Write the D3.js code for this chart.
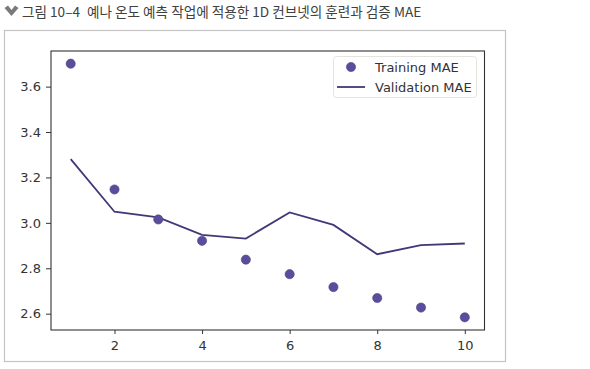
<!DOCTYPE html>
<html><head><meta charset="utf-8">
<script src="https://cdn.jsdelivr.net/npm/d3@7"></script>
<style>body{margin:0;background:#fff}svg{display:block}</style>
</head><body>
<svg id="c" width="590" height="369"></svg>
<script>
const epochs = [1,2,3,4,5,6,7,8,9,10];
const trainingMAE = [3.701,3.147,3.015,2.921,2.838,2.774,2.717,2.669,2.627,2.584];
const validationMAE = [3.281,3.049,3.024,2.947,2.931,3.046,2.991,2.862,2.902,2.909];
const xTicks = [2,4,6,8,10];
const yTicks = [2.6,2.8,3.0,3.2,3.4,3.6];
const titleFig = "그림 10–4";
const titleText = "예나 온도 예측 작업에 적용한 1D 컨브넷의 훈련과 검증 MAE";
const legendLabels = ["Training MAE","Validation MAE"];

const svg = d3.select("#c");
const plot = {l:51, r:484.5, t:51, b:330};
const dotColor = "#5a4e9c", lineColor = "#433877", fnt = "DejaVu Sans, sans-serif";

// Title
svg.append("path").attr("d","M4.5,8 L8,5.5 L11.5,10 L15,5.5 L18.5,8 L11.5,16 Z").attr("fill","#7a7a7a");
const tt = svg.append("text").attr("x",22).attr("y",17).attr("font-family","Noto Sans CJK KR, sans-serif")
  .attr("font-size",13.6).attr("fill","#404040");
tt.append("tspan").text(titleFig);
tt.append("tspan").attr("dx",7).text(titleText);

// Outer frame
svg.append("rect").attr("x",4.5).attr("y",30.5).attr("width",501).attr("height",331)
  .attr("fill","none").attr("stroke","#c4c4c4").attr("stroke-width",1.2);

// Scales (matplotlib-like 5% margins)
const xmin = d3.min(epochs), xmax = d3.max(epochs), xm = (xmax-xmin)*0.05;
const x = d3.scaleLinear().domain([xmin-xm, xmax+xm]).range([plot.l, plot.r]);
const all = trainingMAE.concat(validationMAE);
const ymin = d3.min(all), ymax = d3.max(all), ym = (ymax-ymin)*0.05;
const y = d3.scaleLinear().domain([ymin-ym, ymax+ym]).range([plot.b, plot.t]);

// Axes
const xa = svg.append("g").attr("transform",`translate(0,${plot.b})`)
  .call(d3.axisBottom(x).tickValues(xTicks).tickFormat(d3.format("d")).tickSize(4).tickPadding(5));
const ya = svg.append("g").attr("transform",`translate(${plot.l},0)`)
  .call(d3.axisLeft(y).tickValues(yTicks).tickFormat(d3.format(".1f")).tickSize(5).tickPadding(5));
[xa,ya].forEach(g=>{
  g.select(".domain").remove();
  g.selectAll("line").attr("stroke","#333");
  g.selectAll("text").attr("font-family",fnt).attr("font-size",13).attr("fill","#333");
});
xa.selectAll("text").attr("dy","0.85em");

// Plot frame
svg.append("rect").attr("x",plot.l).attr("y",plot.t).attr("width",plot.r-plot.l).attr("height",plot.b-plot.t)
  .attr("fill","none").attr("stroke","#333").attr("stroke-width",1.1);

// Validation line
svg.append("path").datum(epochs.map((e,i)=>[e,validationMAE[i]]))
  .attr("d", d3.line().x(d=>x(d[0])).y(d=>y(d[1])))
  .attr("fill","none").attr("stroke",lineColor).attr("stroke-width",1.8);

// Training dots
svg.selectAll("circle.t").data(epochs.map((e,i)=>[e,trainingMAE[i]])).enter().append("circle")
  .attr("class","t").attr("cx",d=>x(d[0])).attr("cy",d=>y(d[1])).attr("r",4.6)
  .attr("fill",dotColor).attr("stroke","#4a3f88").attr("stroke-width",0.6);

// Legend
const lg = svg.append("g");
lg.append("rect").attr("x",333.5).attr("y",56.5).attr("width",143).attr("height",41).attr("rx",3)
  .attr("fill","#fff").attr("stroke","#e6e3dc").attr("stroke-width",1);
lg.append("circle").attr("cx",351).attr("cy",67).attr("r",4.6).attr("fill",dotColor).attr("stroke","#4a3f88").attr("stroke-width",0.6);
lg.append("line").attr("x1",337).attr("x2",365).attr("y1",87).attr("y2",87).attr("stroke",lineColor).attr("stroke-width",1.8);
legendLabels.forEach((t,i)=>{
  lg.append("text").attr("x",375).attr("y",67+i*20).attr("dy","0.35em")
    .attr("font-family",fnt).attr("font-size",13).attr("fill","#333").text(t);
});
</script>
</body></html>
